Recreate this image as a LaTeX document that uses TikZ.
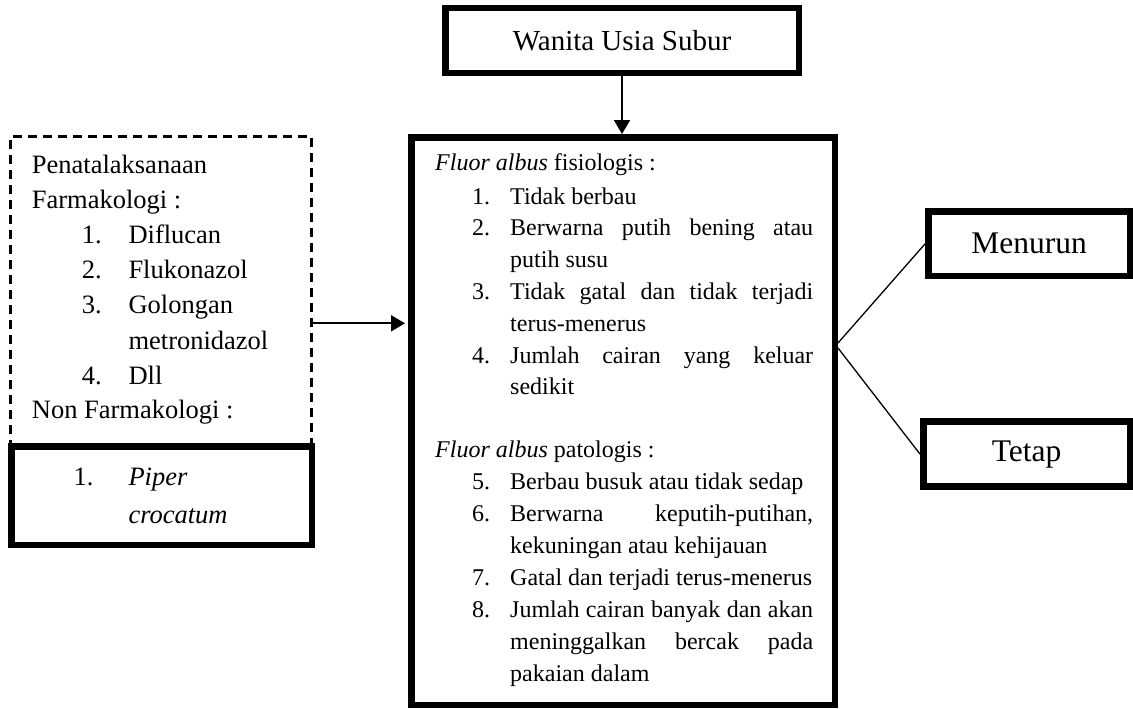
\documentclass[tikz,border=0pt]{standalone}
\usepackage{fontspec}
\setmainfont{Liberation Serif}
\usetikzlibrary{arrows.meta}
\begin{document}
\begin{tikzpicture}[x=1pt,y=-1pt,
  thickbox/.style={draw,line width=6.5pt,inner sep=0pt,fill=white},
  dashbox/.style={draw,line width=2.5pt,dash pattern=on 9pt off 6pt,inner sep=0pt},
  arr/.style={line width=2pt,-{Triangle[length=14pt,width=16pt]}},
  link/.style={line width=1.3pt},
  txt/.style={anchor=base west,inner sep=0pt,font=\fontsize{24}{28}\selectfont},
  ltxt/.style={anchor=base west,inner sep=0pt,font=\fontsize{26.5}{30}\selectfont}]
\useasboundingbox (0,0) rectangle (1133,709);

% boxes
\node[thickbox, minimum width=353.5pt, minimum height=64.6pt, font=\fontsize{29}{32}\selectfont] (top) at (622,40.5) {Wanita Usia Subur};
\node[thickbox, minimum width=423.5pt, minimum height=567.5pt] (main) at (623,421) {};
\node[dashbox, minimum width=301pt, minimum height=309.3pt] (lb) at (161.2,291.35) {};
\node[thickbox, minimum width=300.3pt, minimum height=98.5pt] (pb) at (161.6,495.5) {};
\node[thickbox, minimum width=201.7pt, minimum height=64.4pt, font=\fontsize{31.5}{34}\selectfont] (menurun) at (1029.2,243.8) {Menurun};
\node[thickbox, minimum width=206.7pt, minimum height=65.1pt, font=\fontsize{31.5}{34}\selectfont] (tetap) at (1026.6,454.1) {Tetap};

% connectors
\draw[arr] (top.south) -- (top.south |- main.north);
\coordinate (ay) at (0,323.3);
\draw[arr,shorten >=3pt] (lb.east |- ay) -- (main.west |- ay);
\coordinate (j1) at (838,343);
\coordinate (j2) at (838,348);
\draw[link] (j1) -- (menurun.west);
\draw[link] (j2) -- (tetap.west);

% left box text
\node[ltxt] (l1) at (31.7,173.3) {Penatalaksanaan};
\node[ltxt] (l2) at (31.7,208.3) {Farmakologi :};
\node[ltxt] (l3n) at (81.7,243.3) {1.};
\node[ltxt] (l3) at (128.3,243.3) {Diflucan};
\node[ltxt] (l4n) at (81.7,278.3) {2.};
\node[ltxt] (l4) at (128.3,278.3) {Flukonazol};
\node[ltxt] (l5n) at (81.7,313.3) {3.};
\node[ltxt] (l5) at (128.3,313.3) {Golongan};
\node[ltxt] (l6) at (128.3,349) {metronidazol};
\node[ltxt] (l7n) at (81.7,384) {4.};
\node[ltxt] (l7) at (128.3,384) {Dll};
\node[ltxt] (l8) at (31.7,418.5) {Non Farmakologi :};
\node[ltxt] (p1n) at (73.3,485) {1.};
\node[ltxt] (p1) at (128.3,485) {\itshape Piper};
\node[ltxt] (p2) at (128.3,523) {\itshape crocatum};

% main box text
\node[txt] (f0) at (435,170.7) {\textit{Fluor albus} fisiologis :};
\node[txt] (f1n) at (472,204) {1.};
\node[txt] (f1) at (510,204) {Tidak berbau};
\node[txt] (f2n) at (472,235.5) {2.};
\node[txt] (f2) at (510,235.5) {\makebox[303pt][s]{Berwarna putih bening atau}};
\node[txt] (f2b) at (510,267) {putih susu};
\node[txt] (f3n) at (472,299) {3.};
\node[txt] (f3) at (510,299) {\makebox[303pt][s]{Tidak gatal dan tidak terjadi}};
\node[txt] (f3b) at (510,331) {terus-menerus};
\node[txt] (f4n) at (472,363) {4.};
\node[txt] (f4) at (510,363) {\makebox[303pt][s]{Jumlah cairan yang keluar}};
\node[txt] (f4b) at (510,394) {sedikit};
\node[txt] (g0) at (435,457) {\textit{Fluor albus} patologis :};
\node[txt] (g5n) at (472,489) {5.};
\node[txt] (g5) at (510,489) {Berbau busuk atau tidak sedap};
\node[txt] (g6n) at (472,521) {6.};
\node[txt] (g6) at (510,521) {\makebox[303pt][s]{Berwarna keputih-putihan,}};
\node[txt] (g6b) at (510,553) {kekuningan atau kehijauan};
\node[txt] (g7n) at (472,585) {7.};
\node[txt] (g7) at (510,585) {Gatal dan terjadi terus-menerus};
\node[txt] (g8n) at (472,617) {8.};
\node[txt] (g8) at (510,617) {\makebox[303pt][s]{Jumlah cairan banyak dan akan}};
\node[txt] (g8b) at (510,649) {\makebox[303pt][s]{meninggalkan bercak pada}};
\node[txt] (g8c) at (510,681) {pakaian dalam};
\end{tikzpicture}
\end{document}
